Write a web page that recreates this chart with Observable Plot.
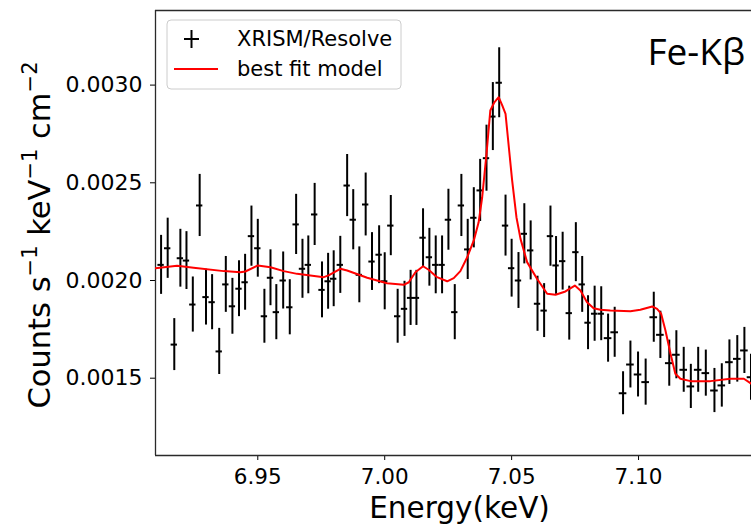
<!DOCTYPE html>
<html><head><meta charset="utf-8">
<script src="https://cdn.jsdelivr.net/npm/d3@7"></script>
<script src="https://cdn.jsdelivr.net/npm/@observablehq/plot@0.6"></script>
<style>
html,body{margin:0;padding:0;background:#fff;overflow:hidden;}
#chart{width:751px;height:525px;overflow:hidden;}
</style></head><body><div id="chart"></div>
<script>
// Observed spectrum (bin centre energy in keV, flux, 1-sigma error, half bin width)
const energy = [
6.9119, 6.9145, 6.9171, 6.9195, 6.9219, 6.9244, 6.9271, 6.9296, 6.9320, 6.9348,
6.9374, 6.9400, 6.9426, 6.9450, 6.9475, 6.9500, 6.9526, 6.9550, 6.9573, 6.9600,
6.9626, 6.9651, 6.9676, 6.9699, 6.9724, 6.9753, 6.9777, 6.9799, 6.9825, 6.9852,
6.9876, 6.9900, 6.9925, 6.9950, 6.9978, 7.0000, 7.0024, 7.0051, 7.0078, 7.0102,
7.0125, 7.0151, 7.0176, 7.0201, 7.0226, 7.0251, 7.0276, 7.0302, 7.0327, 7.0351,
7.0376, 7.0401, 7.0426, 7.0451, 7.0476, 7.0500, 7.0527, 7.0550, 7.0575, 7.0602,
7.0628, 7.0653, 7.0675, 7.0701, 7.0727, 7.0753, 7.0778, 7.0801, 7.0827, 7.0853,
7.0880, 7.0906, 7.0939, 7.0968, 7.0998, 7.1028, 7.1060, 7.1086, 7.1121, 7.1149,
7.1178, 7.1206, 7.1235, 7.1265, 7.1299, 7.1328, 7.1358, 7.1389, 7.1417, 7.1443];
const flux = [
0.002080, 0.002165, 0.001672, 0.002114, 0.002102, 0.001877, 0.002384, 0.001915, 0.001889, 0.001637,
0.001980, 0.001868, 0.001958, 0.001991, 0.002227, 0.002165, 0.001817, 0.002014, 0.001838, 0.002000,
0.001863, 0.002287, 0.002060, 0.002080, 0.002338, 0.001952, 0.001996, 0.002009, 0.002080, 0.002486,
0.002311, 0.002029, 0.002389, 0.002097, 0.002132, 0.001996, 0.002281, 0.001817, 0.001855, 0.001911,
0.001911, 0.002219, 0.002119, 0.002080, 0.002080, 0.002311, 0.001838, 0.002384, 0.002159, 0.002321,
0.002461, 0.002626, 0.002839, 0.003012, 0.002281, 0.002063, 0.002000, 0.002239, 0.002154, 0.001881,
0.001846, 0.002227, 0.002077, 0.002099, 0.001833, 0.002145, 0.001980, 0.001784, 0.001830, 0.001830,
0.001705, 0.001735, 0.001423, 0.001570, 0.001519, 0.001480, 0.001812, 0.001722, 0.001577, 0.001620,
0.001543, 0.001458, 0.001543, 0.001526, 0.001437, 0.001463, 0.001582, 0.001599, 0.001642, 0.001505];
const fluxErr = [
0.000151, 0.000154, 0.000133, 0.000148, 0.000148, 0.000141, 0.000159, 0.000143, 0.000141, 0.000118,
0.000143, 0.000143, 0.000143, 0.000143, 0.000154, 0.000148, 0.000138, 0.000143, 0.000141, 0.000146,
0.000141, 0.000154, 0.000151, 0.000148, 0.000159, 0.000143, 0.000143, 0.000143, 0.000146, 0.000159,
0.000154, 0.000143, 0.000161, 0.000148, 0.000148, 0.000146, 0.000154, 0.000138, 0.000141, 0.000141,
0.000141, 0.000148, 0.000148, 0.000148, 0.000148, 0.000156, 0.000141, 0.000159, 0.000154, 0.000154,
0.000159, 0.000169, 0.000174, 0.000179, 0.000156, 0.000148, 0.000143, 0.000154, 0.000151, 0.000141,
0.000138, 0.000154, 0.000148, 0.000148, 0.000138, 0.000151, 0.000143, 0.000138, 0.000141, 0.000138,
0.000123, 0.000128, 0.000110, 0.000120, 0.000115, 0.000118, 0.000128, 0.000121, 0.000118, 0.000123,
0.000115, 0.000113, 0.000115, 0.000118, 0.000113, 0.000111, 0.000114, 0.000119, 0.000118, 0.000118];
const energyErr = [
0.00125, 0.00125, 0.00125, 0.00125, 0.00125, 0.00125, 0.00125, 0.00125, 0.00125, 0.00125,
0.00125, 0.00125, 0.00125, 0.00125, 0.00125, 0.00125, 0.00125, 0.00125, 0.00125, 0.00125,
0.00125, 0.00125, 0.00125, 0.00125, 0.00125, 0.00125, 0.00125, 0.00125, 0.00125, 0.00125,
0.00125, 0.00125, 0.00125, 0.00125, 0.00125, 0.00125, 0.00125, 0.00125, 0.00125, 0.00125,
0.00125, 0.00125, 0.00125, 0.00125, 0.00125, 0.00125, 0.00125, 0.00125, 0.00125, 0.00125,
0.00125, 0.00125, 0.00125, 0.00125, 0.00125, 0.00125, 0.00125, 0.00125, 0.00125, 0.00125,
0.00125, 0.00125, 0.00125, 0.00125, 0.00125, 0.00125, 0.00125, 0.00125, 0.00125, 0.00125,
0.0015, 0.0015, 0.0015, 0.0015, 0.0015, 0.0015, 0.0015, 0.0015, 0.0015, 0.0015,
0.0015, 0.0015, 0.0015, 0.0015, 0.0015, 0.0015, 0.0015, 0.0015, 0.0015, 0.0015];

// Best fit model
const modelEnergy = [
6.9097, 6.9182, 6.9247, 6.9366, 6.9431, 6.9451, 6.9500, 6.9550, 6.9602, 6.9655,
6.9707, 6.9760, 6.9779, 6.9825, 6.9852, 6.9931, 7.0009, 7.0075, 7.0095, 7.0121,
7.0151, 7.0173, 7.0206, 7.0246, 7.0272, 7.0298, 7.0325, 7.0351, 7.0370, 7.0384,
7.0401, 7.0416, 7.0432, 7.0449, 7.0463, 7.0476, 7.0489, 7.0502, 7.0519, 7.0535,
7.0561, 7.0600, 7.0640, 7.0673, 7.0712, 7.0749, 7.0771, 7.0797, 7.0823, 7.0850,
7.0889, 7.0968, 7.1007, 7.1054, 7.1073, 7.1089, 7.1106, 7.1126, 7.1145, 7.1165,
7.1205, 7.1283, 7.1362, 7.1415, 7.1445];
const modelFlux = [
0.002063, 0.002075, 0.002065, 0.002048, 0.002042, 0.002046, 0.002077, 0.002068, 0.002048, 0.002034,
0.002026, 0.002017, 0.002026, 0.002060, 0.002051, 0.002014, 0.001986, 0.001978, 0.001991, 0.002042,
0.002073, 0.002055, 0.002017, 0.001996, 0.002012, 0.002048, 0.002119, 0.002205, 0.002298, 0.002426,
0.002648, 0.002870, 0.002912, 0.002938, 0.002896, 0.002853, 0.002682, 0.002512, 0.002324, 0.002213,
0.002094, 0.002009, 0.001932, 0.001927, 0.001944, 0.001974, 0.001949, 0.001889, 0.001858, 0.001850,
0.001846, 0.001843, 0.001850, 0.001867, 0.001855, 0.001830, 0.001744, 0.001625, 0.001523, 0.001497,
0.001485, 0.001485, 0.001497, 0.001497, 0.001471];

const xTicks = [6.95, 7.00, 7.05, 7.10];
const yTicks = [0.0015, 0.0020, 0.0025, 0.0030];
const xDomain = [6.9097, 7.1445];
const yDomain = [0.0011044, 0.0033818];
const seriesNames = ["XRISM/Resolve", "best fit model"];
const xLabel = "Energy(keV)";
// y label pieces: [text, isSuperscript]
const yLabelParts = [["Counts s", false], ["\u22121", true], [" keV", false], ["\u22121", true], [" cm", false], ["\u22122", true]];
const lineLabel = "Fe-K\u03B2";

const data = energy.map((e, i) => ({e, f: flux[i], fe: fluxErr[i], ee: energyErr[i]}));
const model = modelEnergy.map((e, i) => ({e, f: modelFlux[i]}));

const spine = {stroke: "#2a2a2a", strokeWidth: 1.3};
const plot = Plot.plot({
  width: 751, height: 525,
  marginTop: 10, marginBottom: 70, marginLeft: 155, marginRight: 0,
  style: {fontFamily: "'DejaVu Sans', sans-serif", background: "white", color: "black"},
  x: {domain: xDomain},
  y: {domain: yDomain},
  marks: [
    Plot.axisX({ticks: xTicks, tickSize: 5, tickPadding: 8, fontSize: 21.5, label: null, tickFormat: d3.format(".2f")}),
    Plot.axisY({ticks: yTicks, tickSize: 5, tickPadding: 8, fontSize: 22, label: null, tickFormat: d3.format(".4f")}),
    Plot.ruleX([xDomain[0]], spine),
    Plot.ruleY([yDomain[0]], spine),
    Plot.ruleY([yDomain[1]], spine),
    Plot.ruleX(data, {x: "e", y1: d => d.f - d.fe, y2: d => d.f + d.fe, stroke: "black", strokeWidth: 2, clip: true}),
    Plot.ruleY(data, {y: "f", x1: d => d.e - d.ee, x2: d => d.e + d.ee, stroke: "black", strokeWidth: 2, clip: true}),
    Plot.line(model, {x: "e", y: "f", stroke: "#ff0000", strokeWidth: 2, clip: true}),
    Plot.text([lineLabel], {text: d => d, frameAnchor: "top-left", textAnchor: "start", lineAnchor: "middle", dx: 492, dy: 43, fontSize: 37, fontFamily: "'Open Sans', sans-serif", fill: "black"}),
    Plot.text([xLabel], {text: d => d, frameAnchor: "bottom", textAnchor: "middle", lineAnchor: "middle", dx: 6, dy: 53, fontSize: 29.5, fill: "black"})
  ]
});
document.getElementById("chart").appendChild(plot);

const svg = d3.select(plot);
const FONT = "'DejaVu Sans', sans-serif";

// Y axis label with raised superscripts (rotated)
const yl = svg.append("text")
  .attr("transform", "translate(50,235) rotate(-90)")
  .attr("text-anchor", "middle")
  .attr("font-family", FONT)
  .attr("font-size", 30.5)
  .attr("fill", "black");
let raised = false;
yLabelParts.forEach(([t, sup]) => {
  const ts = yl.append("tspan").text(t);
  if (sup && !raised) { ts.attr("dy", -13).attr("font-size", 21); raised = true; }
  else if (!sup && raised) { ts.attr("dy", 13).attr("font-size", 30.5); raised = false; }
  else if (sup) { ts.attr("font-size", 21); }
});

// Legend (matplotlib style box, upper left)
const lg = svg.append("g").attr("class", "legend").attr("text-anchor", "start");
lg.append("rect").attr("x", 167).attr("y", 20).attr("width", 234).attr("height", 69)
  .attr("rx", 4).attr("fill", "white").attr("fill-opacity", 0.8).attr("stroke", "#cccccc").attr("stroke-width", 1);
lg.append("line").attr("x1", 184).attr("x2", 199).attr("y1", 39).attr("y2", 39).attr("stroke", "black").attr("stroke-width", 2);
lg.append("line").attr("x1", 191.5).attr("x2", 191.5).attr("y1", 30).attr("y2", 48).attr("stroke", "black").attr("stroke-width", 2);
lg.append("line").attr("x1", 174).attr("x2", 218).attr("y1", 69).attr("y2", 69).attr("stroke", "#ff0000").attr("stroke-width", 2);
lg.append("text").attr("x", 237).attr("y", 46).attr("font-size", 21).attr("font-family", FONT).attr("fill", "black").attr("text-anchor", "start").text(seriesNames[0]);
lg.append("text").attr("x", 237).attr("y", 76).attr("font-size", 21).attr("font-family", FONT).attr("fill", "black").attr("text-anchor", "start").text(seriesNames[1]);
</script>
</body></html>
